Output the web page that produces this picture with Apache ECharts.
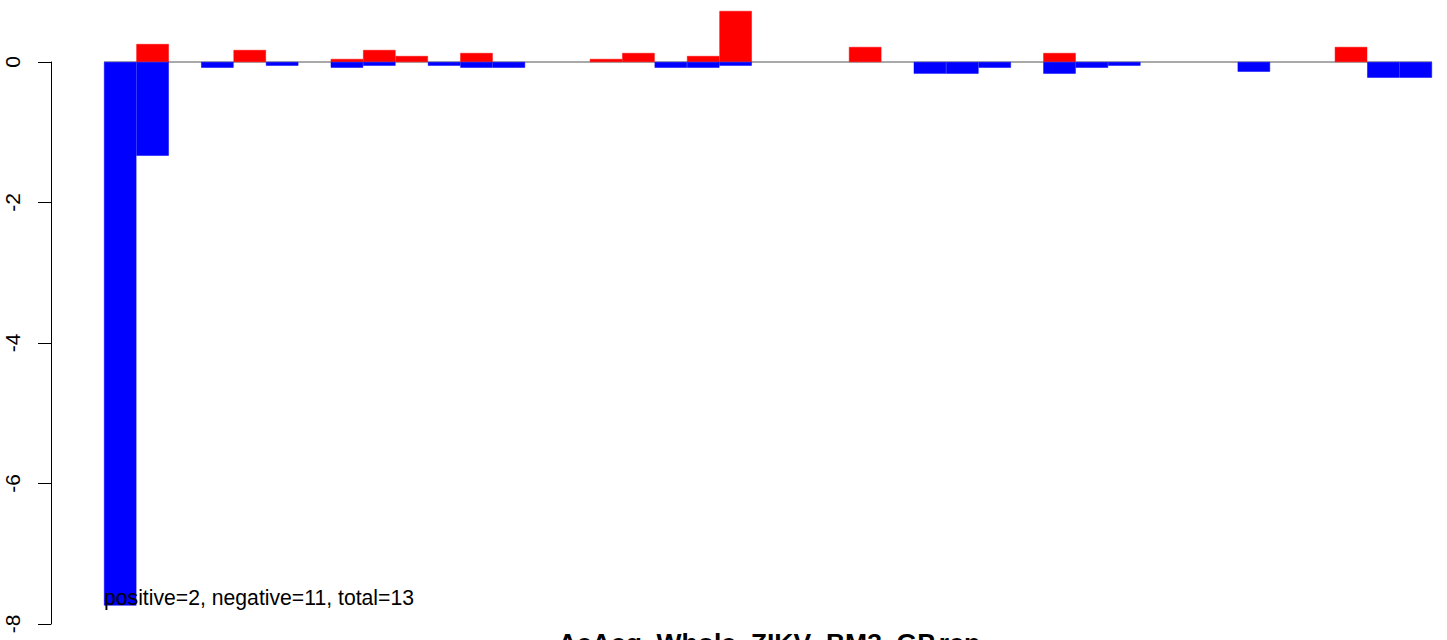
<!DOCTYPE html>
<html>
<head>
<meta charset="utf-8">
<script src="https://cdn.jsdelivr.net/npm/echarts@6/dist/echarts.min.js"></script>
<style>
  html, body { margin: 0; padding: 0; background: #ffffff; }
  #chart { width: 1447px; height: 640px; }
</style>
</head>
<body>
<div id="chart"></div>
<script>
// ---- data (null = no bar in that slot) ----
const categories = ['1','2','3','4','5','6','7','8','9','10','11','12','13','14','15','16','17','18','19','20',
  '21','22','23','24','25','26','27','28','29','30','31','32','33','34','35','36','37','38','39','40','41'];
const positiveValues = [null, 0.256, null, null, 0.171, null, null, 0.043, 0.171, 0.085, null, 0.128, null, null, null, 0.043, 0.128, null, 0.085, 0.726,
  null, null, null, 0.214, null, null, null, null, null, 0.128, null, null, null, null, null, null, null, null, 0.214, null, null];
const negativeValues = [-7.737, -1.334, null, -0.081, null, -0.052, null, -0.081, -0.052, null, -0.052, -0.081, -0.081, null, null, null, null, -0.081, -0.081, -0.052,
  null, null, null, null, null, -0.166, -0.166, -0.081, null, -0.166, -0.081, -0.052, null, null, null, -0.138, null, null, null, -0.223, -0.223];
const yTicks = { min: -8, max: 0, interval: 2 };
const titleText = 'AeAeg_Whole_ZIKV_BM3_GP.rep';
const noteText = 'positive=2, negative=11, total=13';

// ---- chart ----
const FONT = '"Liberation Sans", Arial, Helvetica, sans-serif';
const chart = echarts.init(document.getElementById('chart'), null, { renderer: 'svg' });
const pxPerUnit = (624 - 62) / (yTicks.max - yTicks.min);
const barMax = 62 / pxPerUnit;

chart.setOption({
  animation: false,
  backgroundColor: '#ffffff',
  title: [
    {
      text: titleText,
      left: 769, top: 629, padding: 0, textAlign: 'center',
      textStyle: { fontFamily: FONT, fontSize: 26.5, fontWeight: 'bold', color: '#000' }
    },
    {
      text: noteText,
      left: 104, top: 587, padding: 0,
      textStyle: { fontFamily: FONT, fontSize: 21.2, fontWeight: 'normal', color: '#000' }
    }
  ],
  grid: [
    { left: 104, right: 15, top: 0, bottom: 16 },
    { left: 51, width: 10, top: 62, bottom: 16 }
  ],
  xAxis: [
    { type: 'category', gridIndex: 0, data: categories, show: false, boundaryGap: true },
    { type: 'value', gridIndex: 1, show: false }
  ],
  yAxis: [
    { type: 'value', gridIndex: 0, min: yTicks.min, max: barMax, show: false },
    {
      type: 'value', gridIndex: 1, min: yTicks.min, max: yTicks.max, interval: yTicks.interval,
      axisLine: { show: true, lineStyle: { color: '#000', width: 1 } },
      axisTick: { show: true, length: 13, lineStyle: { color: '#000', width: 1 } },
      axisLabel: { show: true, rotate: 90, margin: 28, fontSize: 21, fontFamily: FONT, color: '#000' },
      splitLine: { show: false }
    }
  ],
  series: [
    {
      name: 'positive', type: 'bar', xAxisIndex: 0, yAxisIndex: 0,
      data: positiveValues, barWidth: '100%', barGap: '-100%',
      itemStyle: { color: '#ff0000', borderColor: '#ff0000', borderWidth: 0.5 },
      markLine: {
        silent: true, symbol: 'none', z: 1,
        label: { show: false },
        lineStyle: { color: '#a9a9a9', width: 2, type: 'solid' },
        data: [{ yAxis: 0 }]
      }
    },
    {
      name: 'negative', type: 'bar', xAxisIndex: 0, yAxisIndex: 0,
      data: negativeValues, barWidth: '100%', barGap: '-100%',
      itemStyle: { color: '#0000ff', borderColor: '#0000ff', borderWidth: 0.5 }
    }
  ]
});
</script>
</body>
</html>
